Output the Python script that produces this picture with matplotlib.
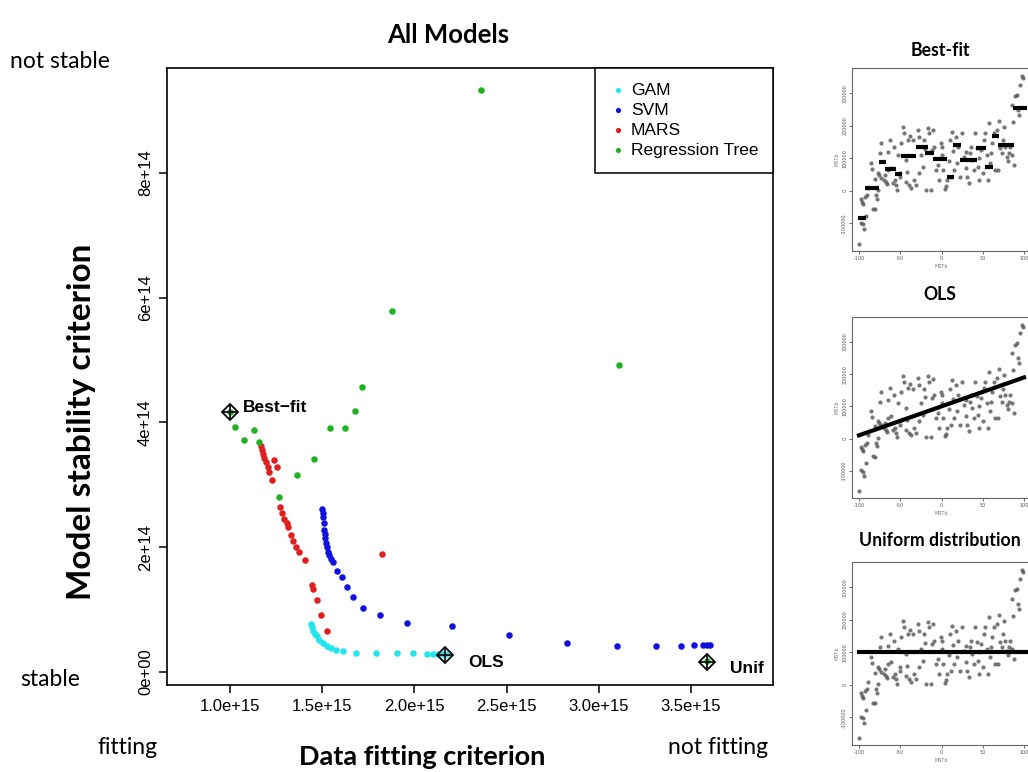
import matplotlib
matplotlib.use("Agg")
import matplotlib.pyplot as plt
import numpy as np

# main plot data (x in 1e15, y in 1e14)
gam_x = [1.439, 1.445, 1.452, 1.461, 1.470, 1.484, 1.503, 1.524, 1.546, 1.575, 1.615, 1.683,
         1.792, 1.904, 1.994, 2.067, 2.103, 2.130, 2.153, 2.171]
gam_y = [0.77, 0.72, 0.66, 0.61, 0.57, 0.51, 0.46, 0.42, 0.38, 0.36, 0.34, 0.31,
         0.31, 0.31, 0.30, 0.29, 0.29, 0.29, 0.29, 0.29]

svm_x = [1.497, 1.503, 1.506, 1.510, 1.510, 1.513, 1.517, 1.521, 1.524, 1.531, 1.539, 1.550,
         1.560, 1.582, 1.607, 1.633, 1.669, 1.723, 1.815, 1.958, 2.202, 2.513, 2.826, 3.100,
         3.308, 3.444, 3.516, 3.567, 3.585, 3.603]
svm_y = [2.61, 2.55, 2.49, 2.39, 2.28, 2.21, 2.14, 2.07, 2.01, 1.93, 1.87, 1.81,
         1.76, 1.62, 1.53, 1.37, 1.20, 1.03, 0.91, 0.79, 0.74, 0.60, 0.46, 0.41,
         0.41, 0.41, 0.44, 0.44, 0.44, 0.44]

mars_x = [1.168, 1.174, 1.181, 1.186, 1.195, 1.206, 1.213, 1.229, 1.239, 1.253, 1.271, 1.282,
          1.293, 1.307, 1.315, 1.329, 1.343, 1.358, 1.372, 1.408, 1.445, 1.452, 1.470, 1.495,
          1.524, 1.823]
mars_y = [3.62, 3.56, 3.50, 3.43, 3.36, 3.28, 3.20, 3.08, 3.39, 3.28, 2.65, 2.55,
          2.46, 2.39, 2.33, 2.20, 2.10, 2.00, 1.93, 1.79, 1.39, 1.33, 1.15, 0.91,
          0.66, 1.89]

tree_x = [2.362, 1.880, 3.108, 1.718, 1.678, 1.542, 1.622, 1.456, 1.365, 1.267, 1.156, 1.132,
          1.074, 1.029, 1.000, 3.588]
tree_y = [9.32, 5.79, 4.92, 4.56, 4.19, 3.91, 3.91, 3.41, 3.15, 2.81, 3.68, 3.88,
          3.72, 3.93, 4.17, 0.17]

mark_names = ["Best\u2212fit", "OLS", "Unif"]
mark_x = [1.000, 2.166, 3.585]
mark_y = [4.17, 0.27, 0.165]

x_ticks = [1.0, 1.5, 2.0, 2.5, 3.0, 3.5]
x_tick_labels = ["1.0e+15", "1.5e+15", "2.0e+15", "2.5e+15", "3.0e+15", "3.5e+15"]
y_ticks = [0, 2, 4, 6, 8]
y_tick_labels = ["0e+00", "2e+14", "4e+14", "6e+14", "8e+14"]

# small panel data (same sample in all three panels, y in 1e5)
sx = [-100, -97.6, -95.6, -94.0, -92.0, -98.0, -96.4, -94.8, -92.8, -90.8, -88.8, -86.0,
      -84.8, -83.6, -80.8, -79.6, -78.0, -76.4, -74.8, -72.8, -76.0, -73.6, -70.0, -68.8,
      -67.6, -66.0, -64.8, -62.8, -60.8, -58.8, -56.8, -55.6, -54.0, -52.8, -50.8, -50.0,
      -48.8, -46.8, -45.6, -43.6, -42.8, -42.0, -40.8, -38.8, -36.8, -34.8, -32.8, -30.8,
      -28.8, -27.6, -26.8, -24.8, -22.8, -20.8, -18.8, -16.8, -14.8, -12.8, -11.6, -10.0,
      -8.8, -6.8, -4.8, -2.8, -0.8, 1.2, 2.0, 4.4, 6.0, 7.2, 9.2, 11.2,
      13.2, 14.0, 15.2, 17.2, 19.2, 20.4, 22.0, 25.2, 27.2, 29.2, 31.2, 33.2,
      34.0, 35.6, 37.2, 39.2, 41.2, 43.2, 44.4, 46.0, 48.4, 50.0, 51.2, 53.2,
      55.2, 56.4, 58.0, 59.2, 61.2, 63.2, 65.2, 67.2, 68.4, 69.2, 71.2, 73.2,
      75.2, 77.2, 79.2, 80.4, 82.0, 83.2, 85.2, 87.2, 89.2, 91.2, 93.2, 94.0,
      95.2, 97.2, 99.2, -81.0, -77.0, -65.0, -58.0, -38.0, -20.0, 0.0, 10.0, 30.0,
      45.0, 60.0, 75.0, 85.0, 88.0]
sy = [-1.63, -0.99, -1.03, -1.16, -0.77, -0.26, -0.34, -0.39, -0.19, -0.13, 0.10, 0.85,
      0.66, -0.55, -0.57, -0.14, -0.24, 0.02, 1.15, 1.46, 0.48, 0.41, 0.33, 0.48,
      0.27, 0.21, 0.64, 1.57, 0.69, 0.25, 0.33, 0.18, 0.04, 1.10, 0.43, 0.56,
      1.46, 1.95, 1.77, 0.95, 0.28, 0.59, 1.57, 0.18, 0.10, 1.55, 0.33, 0.18,
      1.88, 1.65, 0.54, 1.10, 0.74, 1.55, 0.04, 1.93, 1.77, 0.04, 1.26, 1.86,
      1.34, 0.64, 0.79, 0.33, 1.46, 1.34, 0.64, 0.07, 0.14, 0.33, 0.93, 0.43,
      1.82, 1.24, 0.64, 1.65, 0.85, 1.34, 0.43, 1.77, 1.03, 0.69, 0.43, 0.23,
      1.15, 1.36, 0.95, 0.64, 1.77, 1.31, 0.74, 0.33, 1.26, 0.54, 1.57, 1.77,
      1.10, 0.33, 2.08, 0.85, 1.46, 1.77, 0.64, 1.88, 0.64, 2.16, 1.31, 1.15,
      1.98, 1.36, 1.05, 0.93, 1.15, 1.36, 2.65, 2.13, 2.91, 2.96, 2.49, 2.34,
      3.27, 3.53, 3.47, 0.38, 0.55, 1.20, 1.35, 1.70, 1.30, 1.10, 1.55, 1.20,
      1.00, 1.15, 1.55, 1.10, 0.80]

# best-fit step segments: start, end, level
step_x0 = [-101.6, -92.7, -75.7, -68.4, -56.2, -48.9, -30.6, -19.7, -10.3, 6.7, 14.0, 22.9,
           42.4, 52.5, 61.5, 68.4, 86.6]
step_x1 = [-91.5, -75.3, -67.1, -55.0, -48.1, -30.6, -16.4, -9.5, 6.7, 14.8, 24.1, 43.2,
           54.2, 62.7, 69.6, 87.8, 103.2]
step_y = [-0.82, 0.08, 0.90, 0.68, 0.52, 1.06, 1.34, 1.16, 0.98, 0.42, 1.42, 0.95,
          1.31, 0.72, 1.69, 1.42, 2.54]
ols_x = [-100, 100]
ols_y = [0.10, 1.90]
unif_level = 1.0

panel_titles = ["Best-fit", "OLS", "Uniform distribution"]
p_x_ticks = [-100, -50, 0, 50, 100]
p_y_ticks = [-1, 0, 1, 2, 3]
p_y_labels = ["-100000", "0", "100000", "200000", "300000"]

W, H = 1028, 772
fig = plt.figure(figsize=(W / 100, H / 100), dpi=100)
fig.patch.set_facecolor("white")

calib = "Lato"
arial = "Liberation Sans"

def fx(px):
    return px / W

def fy(py):
    return 1 - py / H

# main axes
ax = fig.add_axes([fx(167), fy(685), fx(773) - fx(167), fy(68) - fy(685)])
ax.set_xlim(0.658, 3.945)
ax.set_ylim(-0.208, 9.68)

ax.scatter(gam_x, gam_y, s=22, color="#22E5EE", lw=0, zorder=3, label="GAM")
ax.scatter(svm_x, svm_y, s=22, color="#1010E0", lw=0, zorder=3, label="SVM")
ax.scatter(mars_x, mars_y, s=22, color="#E02020", lw=0, zorder=3, label="MARS")
ax.scatter(tree_x, tree_y, s=22, color="#20B020", lw=0, zorder=4, label="Regression Tree")

ax.plot(mark_x, mark_y, ls="none", marker="D", ms=8.2, mfc="none", mec="black", mew=1.3, zorder=5)
ax.plot(mark_x, mark_y, ls="none", marker="+", ms=11.5, color="black", mew=1.2, zorder=5)
ax.annotate(mark_names[0], (mark_x[0], mark_y[0]), xytext=(9, 3), textcoords="offset points",
            fontsize=12.5, fontweight="bold", family=arial, va="center", ha="left")
for i in (1, 2):
    ax.annotate(mark_names[i], (mark_x[i], mark_y[i]), xytext=(17, -5), textcoords="offset points",
                fontsize=12.5, fontweight="bold", family=arial, va="center", ha="left")

ax.set_xticks(x_ticks)
ax.set_xticklabels(x_tick_labels, fontsize=12, family=arial)
ax.set_yticks(y_ticks)
ax.set_yticklabels(y_tick_labels, fontsize=12, family=arial, rotation=90, va="center")
ax.tick_params(direction="out", length=6, width=1.1, pad=4)
for s in ax.spines.values():
    s.set_linewidth(1.2)

leg = ax.legend(loc="upper right", bbox_to_anchor=(1.0, 1.0), borderaxespad=0, fancybox=False,
                edgecolor="black", framealpha=1, prop={"family": arial, "size": 12.5},
                handletextpad=0.3, labelspacing=0.28, handlelength=0.9, borderpad=0.85,
                markerscale=0.8)
leg.get_frame().set_linewidth(1.1)
leg.set_zorder(6)

fig.text(fx(448), fy(35), "All Models", fontsize=18.5, fontweight="bold", family=calib, ha="center", va="center")
fig.text(fx(422), fy(757), "Data fitting criterion", fontsize=19.5, fontweight="bold", family=calib,
         ha="center", va="center")
fig.text(fx(82), fy(422), "Model stability criterion", fontsize=24, fontweight="bold", family=calib,
         ha="center", va="center", rotation=90)
fig.text(fx(10), fy(62), "not stable", fontsize=16.5, family=calib, ha="left", va="center")
fig.text(fx(20), fy(680), "stable", fontsize=16.5, family=calib, ha="left", va="center")
fig.text(fx(97), fy(748), "fitting", fontsize=16.5, family=calib, ha="left", va="center")
fig.text(fx(668), fy(748), "not fitting", fontsize=16.5, family=calib, ha="left", va="center")

# right panels
tops = [68, 317, 562]
bots = [251, 498, 745]
title_y = [50, 295, 541]
for k in range(3):
    pa = fig.add_axes([fx(852), fy(bots[k]), fx(1031) - fx(852), fy(tops[k]) - fy(bots[k])])
    pa.set_xlim(-108.5, 108.5)
    pa.set_ylim(-1.85, 3.78)
    pa.scatter(sx, sy, s=9, color="#555555", alpha=0.8, lw=0, zorder=2)
    if k == 0:
        for a, b, c in zip(step_x0, step_x1, step_y):
            pa.plot([a, b], [c, c], color="black", lw=3, solid_capstyle="butt", zorder=3)
    elif k == 1:
        pa.plot(ols_x, ols_y, color="black", lw=3, zorder=3)
    else:
        pa.plot([-100, 108.5], [unif_level, unif_level], color="black", lw=3, zorder=3)
    pa.set_xticks(p_x_ticks)
    pa.set_xticklabels([str(v) for v in p_x_ticks], fontsize=3.5, color="#777777")
    pa.set_yticks(p_y_ticks)
    pa.set_yticklabels(p_y_labels, fontsize=3.5, color="#777777", rotation=90, va="center")
    pa.tick_params(length=2, width=0.6, pad=1.5, colors="#555555")
    pa.set_xlabel("MSTb", fontsize=3.5, color="#777777", labelpad=2)
    pa.set_ylabel("MSTb", fontsize=3.5, color="#777777", labelpad=2)
    for s in pa.spines.values():
        s.set_linewidth(0.8)
        s.set_color("#666666")
    fig.text(fx(940), fy(title_y[k]), panel_titles[k], fontsize=12.7, fontweight="bold", family=calib,
             ha="center", va="center")

fig.savefig("out.png", dpi=100, facecolor="white")
